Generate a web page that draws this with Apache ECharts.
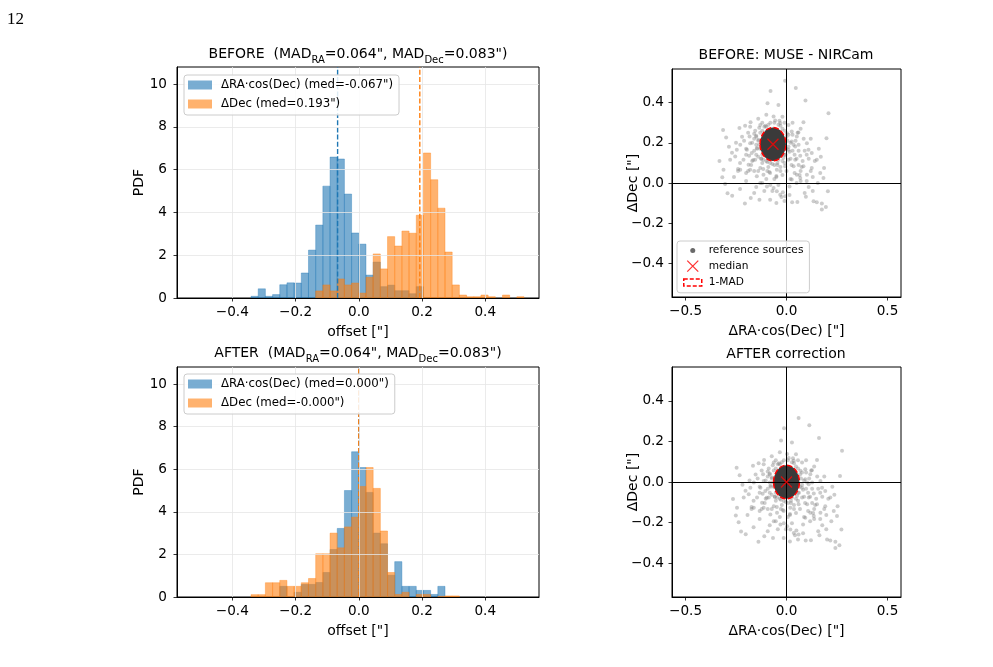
<!DOCTYPE html>
<html>
<head>
<meta charset="utf-8">
<title>MUSE - NIRCam offsets</title>
<script src="https://cdn.jsdelivr.net/npm/echarts@6/dist/echarts.min.js"></script>
<style>
  html, body { margin: 0; padding: 0; background: #fff; }
  #chart { width: 993px; height: 667px; }
</style>
</head>
<body>
<div id="chart"></div>
<script>
  // histogram bins: 46 equal bins between -binLim and +binLim
  var binLim = 0.5227
  var binCount = 46

  // PDF heights per bin
  var raBefore = [0, 0, 0, 0, 0, 0, 0, 0, 0.08, 0.43, 0.08, 0.16, 0.62, 0.71, 0.70, 1.17, 2.24, 3.41, 5.23, 6.59, 6.50, 4.86, 3.04, 2.52, 1.07, 1.68, 0.53, 0.60, 0.34, 0.34, 0.20, 0.53, 0, 0, 0, 0, 0, 0, 0, 0, 0, 0, 0, 0, 0, 0]
  var decBefore = [0, 0, 0, 0, 0, 0, 0, 0, 0, 0, 0, 0, 0, 0, 0, 0, 0, 0.33, 0.61, 0.33, 0.89, 0.61, 0.70, 0.23, 0.97, 2.06, 1.36, 2.87, 2.43, 3.13, 3.03, 3.87, 6.78, 5.53, 4.20, 2.15, 0.61, 0.14, 0.06, 0.06, 0.14, 0.06, 0, 0.14, 0, 0.06]
  var raAfter = [0, 0, 0, 0, 0, 0, 0, 0, 0, 0, 0, 0, 0.50, 0, 0.22, 0.59, 0.59, 0.68, 1.15, 2.23, 3.22, 5.00, 6.82, 6.08, 4.91, 3.00, 2.50, 1.02, 1.66, 0.50, 0.50, 0.31, 0.31, 0.12, 0.50, 0, 0, 0, 0, 0, 0, 0, 0, 0, 0, 0]
  var decAfter = [0, 0, 0, 0, 0, 0, 0, 0, 0.11, 0.11, 0.67, 0.67, 0.78, 0.50, 0.50, 0.67, 0.87, 2.03, 2.03, 3.00, 2.31, 3.29, 3.75, 5.19, 6.08, 5.10, 3.10, 1.15, 0.12, 0.22, 0, 0.12, 0.12, 0, 0.03, 0.05, 0.05, 0, 0, 0, 0, 0, 0, 0, 0, 0]

  // medians and MADs (arcsec)
  var medRA = -0.067
  var medDec = 0.193
  var madRA = 0.064
  var madDec = 0.083

  // reference sources, BEFORE offsets (arcsec)
  var srcRA = [-0.007, 0.046, -0.079, 0.094, -0.094, -0.040, 0.208, 0.084, -0.178, -0.314, -0.233, -0.299, 0.198, -0.332, -0.312, -0.318, -0.304, -0.292, -0.269, -0.206, -0.177, -0.134, -0.081, -0.031, -0.007, 0.028, 0.054, 0.096, 0.134, 0.150, 0.175, 0.195, 0.175, 0.205, 0.183, 0.167, 0.186, 0.150, 0.125, 0.109, 0.068, 0.101, 0.051, 0.059, 0.026, -0.183, -0.229, -0.246, -0.254, -0.279, -0.213, -0.188, -0.229, -0.180, -0.147, -0.114, -0.130, -0.097, -0.064, -0.048, -0.018, 0.015, 0.026, 0.051, 0.068, 0.101, 0.125, 0.084, 0.035, 0.010, 0.043, -0.007, -0.048, -0.081, -0.130, -0.155, -0.172, -0.196, -0.147, -0.139, -0.160, -0.130, -0.064, -0.056, -0.031, 0.010, 0.002, 0.026, 0.043, 0.010, -0.040, -0.081, -0.114, -0.106, -0.180, -0.150, -0.120, -0.100, -0.080, -0.040, -0.020, 0.000, 0.020, 0.030, 0.040, 0.020, -0.010, -0.030, -0.060, -0.090, -0.120, -0.140, -0.160, -0.170, -0.150, -0.130, -0.120, -0.010, 0.010, -0.110, -0.060, -0.200, -0.210, -0.190, 0.060, 0.080, 0.070, 0.040, -0.020, -0.060, -0.100, -0.160, -0.200, -0.230, 0.110, 0.090, 0.060, -0.050, 0.000, -0.140, -0.170, 0.050, -0.080, 0.100, 0.130,
    -0.140, -0.145, -0.130, -0.110, -0.090, -0.060, -0.030, -0.010, 0.005, 0.000, -0.005, -0.020, -0.045, -0.070, -0.100, -0.125, -0.150, -0.160, -0.155, -0.120, 0.030, 0.045, 0.060, 0.050, 0.025, -0.030, -0.085, -0.115, -0.175, -0.200, -0.220, -0.180, -0.140, -0.100, -0.020, 0.030, 0.070, 0.085, 0.100, 0.075, -0.250, -0.270, -0.240, -0.200, -0.150, -0.110, -0.040, 0.020, 0.070, 0.120, 0.140, 0.160, 0.120, 0.130, 0.090, -0.010, -0.050, -0.160, -0.230, -0.260,
    -0.135, -0.150, -0.125, -0.095, -0.045, -0.015, 0.010, 0.015, -0.010, -0.035, -0.105, -0.135, -0.165, -0.185, -0.095, -0.050, 0.035, 0.055, -0.190, -0.205, -0.120, -0.070, -0.025, 0.015, 0.110, 0.155, -0.285, -0.240, 0.170, 0.065]
  var srcDec = [0.509, 0.473, 0.458, 0.410, 0.397, 0.388, 0.347, 0.302, 0.302, 0.263, 0.273, 0.226, 0.223, 0.109, 0.066, 0.028, -0.005, -0.051, -0.064, -0.102, -0.074, -0.083, -0.083, -0.058, -0.066, -0.096, -0.094, -0.069, -0.091, -0.096, -0.102, -0.119, -0.132, -0.041, 0.025, 0.050, 0.074, 0.116, 0.149, 0.165, 0.136, 0.198, 0.231, 0.251, 0.256, 0.231, 0.190, 0.165, 0.132, 0.116, 0.116, 0.091, 0.066, 0.066, 0.033, 0.041, 0.000, -0.017, -0.025, -0.041, -0.046, -0.017, 0.017, 0.041, 0.025, 0.041, 0.074, 0.083, 0.083, 0.116, 0.116, 0.083, 0.066, 0.050, 0.074, 0.116, 0.149, 0.165, 0.174, 0.215, 0.245, 0.289, 0.331, 0.311, 0.298, 0.289, 0.248, 0.207, 0.182, 0.165, 0.116, 0.099, 0.116, 0.149, 0.198, 0.230, 0.260, 0.280, 0.300, 0.290, 0.270, 0.230, 0.200, 0.160, 0.140, 0.120, 0.100, 0.080, 0.090, 0.080, 0.100, 0.130, 0.160, 0.200, 0.190, 0.170, 0.140, 0.140, 0.180, 0.240, 0.260, 0.140, 0.210, 0.250, 0.090, 0.110, 0.060, 0.050, 0.040, 0.020, 0.020, 0.060, 0.050, 0.100, 0.120, 0.160, 0.190, 0.030, 0.060, 0.060, 0.110, 0.000, -0.010, 0.010, 0.030,
    0.210, 0.170, 0.250, 0.280, 0.290, 0.300, 0.285, 0.260, 0.210, 0.170, 0.140, 0.110, 0.100, 0.095, 0.110, 0.120, 0.140, 0.220, 0.260, 0.300, 0.240, 0.210, 0.160, 0.120, 0.090, 0.060, 0.055, 0.070, 0.090, 0.170, 0.230, 0.280, 0.320, 0.340, 0.330, 0.300, 0.270, 0.220, 0.140, 0.080, 0.200, 0.150, 0.060, 0.010, -0.020, -0.040, -0.010, 0.020, 0.010, 0.060, 0.110, 0.170, 0.220, -0.040, -0.050, -0.090, -0.100, -0.050, -0.030, 0.030,
    0.275, 0.235, 0.120, 0.105, 0.090, 0.125, 0.240, 0.155, 0.300, 0.310, 0.285, 0.190, 0.115, 0.135, 0.060, 0.035, 0.190, 0.250, 0.060, 0.285, 0.000, -0.040, -0.070, -0.060, -0.020, 0.000, 0.180, 0.070, 0.130, 0.040]

  // tick values
  var histXTicks = [-0.4, -0.2, 0, 0.2, 0.4]
  var histYTicks = [0, 2, 4, 6, 8, 10]
  var scatXTicks = [-0.5, 0, 0.5]
  var scatYTicks = [-0.4, -0.2, 0, 0.2, 0.4]

  var FONT = 'DejaVu Sans'
  var BLUE = 'rgba(31,119,180,0.6)'
  var ORANGE = 'rgba(255,127,14,0.6)'

  var chart = echarts.init(document.getElementById('chart'))

  function toBars(heights) {
    var w = 2 * binLim / binCount
    var out = []
    heights.forEach(function (h, i) {
      if (h > 0) out.push([-binLim + i * w, -binLim + (i + 1) * w, h])
    })
    return out
  }

  function minusFmt(v) {
    return (v < -1e-9 ? '\u2212' : '') + Math.abs(v).toFixed(1)
  }

  function renderBar(params, api) {
    var p0 = api.coord([api.value(0), api.value(2)])
    var p1 = api.coord([api.value(1), 0])
    var color = api.visual('color')
    return {
      type: 'rect',
      shape: { x: p0[0], y: p0[1], width: p1[0] - p0[0], height: p1[1] - p0[1] },
      style: { fill: color, stroke: color, lineWidth: 0.6 },
    }
  }

  function renderEllipse(params, api) {
    var c = api.coord([api.value(0), api.value(1)])
    var s = api.size([api.value(2), api.value(3)])
    return {
      type: 'ellipse',
      shape: { cx: c[0], cy: c[1], rx: s[0], ry: s[1] },
      style: { fill: '#3a3a3a', stroke: '#ff0000', lineWidth: 1.5, lineDash: [5.5, 2.4] },
    }
  }

  function baseAxis(gi, min, max, name, gap, ticks, fmt, margin) {
    return {
      type: 'value',
      gridIndex: gi,
      min: min,
      max: max,
      z: 5,
      name: name,
      nameLocation: 'middle',
      nameGap: gap,
      nameMoveOverlap: false,
      nameTextStyle: { fontFamily: FONT, fontSize: 14, color: '#000' },
      axisLine: { show: true, onZero: false, lineStyle: { color: '#000', width: 1 } },
      axisTick: { show: true, length: 3.5, lineStyle: { color: '#000', width: 0.8 }, customValues: ticks },
      axisLabel: { customValues: ticks, formatter: fmt, fontFamily: FONT, fontSize: 13.6, color: '#000', margin: margin },
      splitLine: { show: false },
    }
  }

  function histX(gi) {
    var a = baseAxis(gi, -0.575, 0.57, 'offset ["]', 27, histXTicks, minusFmt, 7)
    a.splitLine = { show: true, lineStyle: { color: '#e6e6e6', width: 0.8 } }
    return a
  }

  function histY(gi) {
    var a = baseAxis(gi, 0, 10.8, 'PDF', 31, histYTicks, '{value}', 10)
    a.splitLine = { show: true, lineStyle: { color: '#e6e6e6', width: 0.8 } }
    return a
  }

  function scatX(gi) {
    return baseAxis(gi, -0.567, 0.567, '\u0394RA\u00b7cos(Dec) ["]', 27, scatXTicks, minusFmt, 7)
  }

  function scatY(gi) {
    return baseAxis(gi, -0.567, 0.567, '\u0394Dec ["]', 32, scatYTicks, minusFmt, 8)
  }

  function medLine(name, xi, value, color) {
    return {
      name: name,
      type: 'line',
      xAxisIndex: xi,
      yAxisIndex: xi,
      data: [[value, 0], [value, 10.8]],
      symbol: 'none',
      silent: true,
      z: 2,
      lineStyle: { color: color, width: 1.4, type: [5, 2.2] },
    }
  }

  function sourceSeries(name, xi, ras, decs) {
    return {
      name: name,
      type: 'scatter',
      xAxisIndex: xi,
      yAxisIndex: xi,
      data: ras.map(function (v, i) { return [v, decs[i]] }),
      symbolSize: 4,
      itemStyle: { color: 'rgba(128,128,128,0.5)' },
      markLine: {
        silent: true,
        symbol: 'none',
        label: { show: false },
        lineStyle: { color: '#000', width: 1, type: 'solid' },
        data: [{ xAxis: 0 }, { yAxis: 0 }],
      },
    }
  }

  function madSeries(name, xi, cx, cy) {
    return {
      name: name,
      type: 'custom',
      xAxisIndex: xi,
      yAxisIndex: xi,
      renderItem: renderEllipse,
      encode: { x: 0, y: 1 },
      data: [[cx, cy, madRA, madDec]],
      z: 3,
    }
  }

  function medianSeries(name, xi, cx, cy) {
    return {
      name: name,
      type: 'scatter',
      xAxisIndex: xi,
      yAxisIndex: xi,
      data: [[cx, cy]],
      symbol: 'path://M0,0L10,10M10,0L0,10',
      symbolSize: 11,
      itemStyle: { color: 'rgba(0,0,0,0)', borderColor: '#ff0000', borderWidth: 1.3 },
      z: 6,
    }
  }

  var raAfterSrc = srcRA.map(function (v) { return v - medRA })
  var decAfterSrc = srcDec.map(function (v) { return v - medDec })

  var nameRaB = '\u0394RA\u00b7cos(Dec) (med=-0.067")'
  var nameDecB = '\u0394Dec (med=0.193")'
  var nameRaA = '\u0394RA\u00b7cos(Dec) (med=0.000")'
  var nameDecA = '\u0394Dec (med=-0.000")'

  var titleRich = {
    t: { fontFamily: FONT, fontSize: 14, fontWeight: 'normal', color: '#000', verticalAlign: 'top' },
    s: { fontFamily: FONT, fontSize: 10, fontWeight: 'normal', color: '#000', verticalAlign: 'top', padding: [8, 0, 0, 0] },
  }

  function plainTitle(text, x, y) {
    return {
      text: text,
      left: x,
      top: y,
      textAlign: 'center',
      padding: 0,
      textStyle: { fontFamily: FONT, fontSize: 14, fontWeight: 'normal', color: '#000' },
    }
  }

  function madTitle(label, x, y) {
    return {
      text: '{t|' + label + '  (MAD}{s|RA}{t|=0.064", MAD}{s|Dec}{t|=0.083")}',
      left: x,
      top: y,
      textAlign: 'center',
      padding: 0,
      textStyle: { fontWeight: 'normal', rich: titleRich },
    }
  }

  function histLegend(names, top) {
    return {
      data: names.map(function (n) { return { name: n, icon: 'rect' } }),
      orient: 'vertical',
      left: 184,
      top: top,
      z: 10,
      itemWidth: 24,
      itemHeight: 9,
      itemGap: 5,
      padding: [3, 6, 4, 4],
      backgroundColor: 'rgba(255,255,255,0.85)',
      borderColor: '#cccccc',
      borderWidth: 1,
      borderRadius: 3,
      textStyle: { fontFamily: FONT, fontSize: 11.8, lineHeight: 14, color: '#000', padding: [0, 0, 0, 4] },
      selectedMode: false,
    }
  }

  var option = {
    animation: false,
    backgroundColor: '#fff',
    title: [
      {
        text: '12',
        left: 7,
        top: 11,
        padding: 0,
        textStyle: { fontFamily: 'Liberation Serif', fontSize: 17, fontWeight: 'normal', color: '#000' },
      },
      madTitle('BEFORE', 358, 47),
      madTitle('AFTER', 358, 346),
      plainTitle('BEFORE: MUSE - NIRCam', 786, 48),
      plainTitle('AFTER correction', 786, 347),
    ],
    legend: [
      histLegend([nameRaB, nameDecB], 75),
      histLegend([nameRaA, nameDecA], 374),
      {
        data: [
          {
            name: 'reference sources',
            icon: 'path://M0,0M22,11M8.5,5.5a2.5,2.5 0 1,0 5,0a2.5,2.5 0 1,0 -5,0z',
            itemStyle: { color: '#444444', borderWidth: 0 },
          },
          {
            name: 'median',
            icon: 'path://M0,0M22,11M5.5,0L16.5,11M16.5,0L5.5,11',
            itemStyle: { color: 'rgba(0,0,0,0)', borderColor: '#ff0000', borderWidth: 1.3 },
          },
          {
            name: '1-MAD',
            icon: 'path://M0,0M22,11M2,2H20V9H2Z',
            itemStyle: { color: '#ffffff', borderColor: '#ff0000', borderWidth: 1.5, borderType: [4, 2] },
          },
        ],
        orient: 'vertical',
        left: 677,
        top: 241,
        z: 10,
        itemWidth: 22,
        itemHeight: 11,
        itemGap: 4,
        padding: [4, 6, 4, 4],
        backgroundColor: 'rgba(255,255,255,0.85)',
        borderColor: '#cccccc',
        borderWidth: 1,
        borderRadius: 3,
        textStyle: { fontFamily: FONT, fontSize: 10.6, color: '#000' },
        selectedMode: false,
      },
    ],
    grid: [
      { left: 177, top: 67, width: 362, height: 231, show: true, borderColor: '#000', borderWidth: 1 },
      { left: 177, top: 367, width: 362, height: 230, show: true, borderColor: '#000', borderWidth: 1 },
      { left: 672, top: 69, width: 229, height: 228, show: true, borderColor: '#000', borderWidth: 1 },
      { left: 672, top: 367, width: 229, height: 230, show: true, borderColor: '#000', borderWidth: 1 },
    ],
    xAxis: [histX(0), histX(1), scatX(2), scatX(3)],
    yAxis: [histY(0), histY(1), scatY(2), scatY(3)],
    series: [
      {
        name: nameRaB,
        type: 'custom',
        xAxisIndex: 0,
        yAxisIndex: 0,
        renderItem: renderBar,
        encode: { x: [0, 1], y: 2 },
        itemStyle: { color: BLUE },
        data: toBars(raBefore),
      },
      {
        name: nameDecB,
        type: 'custom',
        xAxisIndex: 0,
        yAxisIndex: 0,
        renderItem: renderBar,
        encode: { x: [0, 1], y: 2 },
        itemStyle: { color: ORANGE },
        data: toBars(decBefore),
      },
      medLine('medRA before', 0, medRA, '#1f77b4'),
      medLine('medDec before', 0, medDec, '#ff7f0e'),
      {
        name: nameRaA,
        type: 'custom',
        xAxisIndex: 1,
        yAxisIndex: 1,
        renderItem: renderBar,
        encode: { x: [0, 1], y: 2 },
        itemStyle: { color: BLUE },
        data: toBars(raAfter),
      },
      {
        name: nameDecA,
        type: 'custom',
        xAxisIndex: 1,
        yAxisIndex: 1,
        renderItem: renderBar,
        encode: { x: [0, 1], y: 2 },
        itemStyle: { color: ORANGE },
        data: toBars(decAfter),
      },
      medLine('medRA after', 1, 0, '#1f77b4'),
      medLine('medDec after', 1, 0, '#ff7f0e'),

      sourceSeries('reference sources', 2, srcRA, srcDec),
      madSeries('1-MAD', 2, medRA, medDec),
      medianSeries('median', 2, medRA, medDec),

      sourceSeries('sources after', 3, raAfterSrc, decAfterSrc),
      madSeries('1-MAD after', 3, 0, 0),
      medianSeries('median after', 3, 0, 0),
    ],
  }

  chart.setOption(option)
</script>
</body>
</html>
